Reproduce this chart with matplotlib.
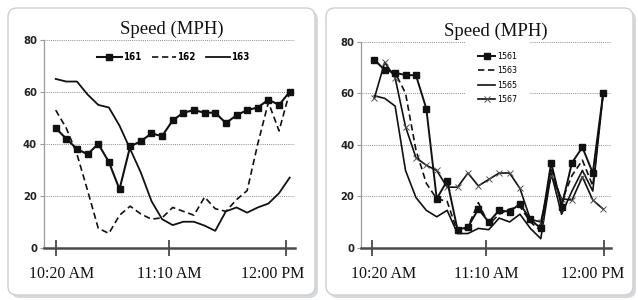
import numpy as np
import matplotlib
matplotlib.use("Agg")
import matplotlib.pyplot as plt
from matplotlib import font_manager as fm
from matplotlib.patches import FancyBboxPatch
from matplotlib.transforms import IdentityTransform, ScaledTranslation

# data (speed in MPH, one value per sample)
left_names = ["161", "162", "163"]
s161 = [46, 42, 38, 36, 40, 33, 22.5, 39, 41, 44, 43, 49, 52, 53, 52, 52, 48, 51, 53, 54, 57, 55, 60]
s162 = [53, 46, 36, 22, 7.5, 5.5, 12.5, 16, 13, 11, 11.5, 15.5, 14, 12.5, 19.5, 15, 14, 18.5, 22, 40, 56, 45, 60]
s163 = [65, 64, 64, 59, 55, 54, 47, 38, 29, 18, 11, 8.7, 10, 10, 8.5, 6.5, 14, 15.5, 13.5, 15.5, 17, 21, 27]

right_names = ["1561", "1563", "1565", "1567"]
s1561 = [73, 69, 68, 67, 67, 54, 19, 26, 7, 8, 15, 10, 14.5, 14, 17, 11, 7.5, 33, 16, 33, 39, 29, 60]
s1563 = [73, 69, 68, 60, 38, 25, 19, 18, 6, 8, 17.5, 9, 13, 15, 16, 10, 6.5, 31, 18, 28, 34, 24, 60]
s1565 = [59, 58, 55, 30, 19.5, 14.5, 12, 14.5, 5.5, 5.5, 7.5, 7, 11.5, 10, 13, 7.5, 3.5, 29, 13, 22, 30, 22, 60]
s1567 = [58, 72, 66, 47, 35, 32, 30, 23.5, 23.5, 29, 24, 26.5, 29, 29, 23, 11, 10, 28, 19, 18.5, 27.5, 18.5, 15]

tick_labels = ["10:20 AM", "11:10 AM", "12:00 PM"]
y_ticks = [0, 20, 40, 60, 80]


# pick a narrow sans for the small numbers, if one is installed
def find_narrow(bold=False):
    best = None
    for f in fm.fontManager.ttflist:
        fn = f.fname.lower()
        if ("narrow" in fn or "condensed" in fn) and "italic" not in fn and "oblique" not in fn:
            is_bold = "bold" in fn
            if is_bold == bold:
                score = 0 if "liberation" in fn else (1 if "dejavusans" in fn else 2)
                if best is None or score < best[0]:
                    best = (score, f.fname)
    return best[1] if best else None


nb = find_narrow(bold=True) or find_narrow(False)
nr = find_narrow(False) or nb


def nprop(size, fname):
    if fname:
        return fm.FontProperties(fname=fname, size=size)
    return fm.FontProperties(family="DejaVu Sans", size=size)


serif = "Liberation Serif"

W, H = 638, 300
fig = plt.figure(figsize=(W / 100, H / 100), dpi=100)

# rounded panel boxes with a soft shadow (pixel coords)
for x0 in (8, 326):
    sh = FancyBboxPatch((x0 + 3, 2), 307, 287, boxstyle="round,pad=0,rounding_size=9",
                        transform=IdentityTransform(), facecolor="#c3c9d0",
                        edgecolor="none", alpha=0.7, zorder=-2)
    box = FancyBboxPatch((x0, 5), 307, 287, boxstyle="round,pad=0,rounding_size=9",
                         transform=IdentityTransform(), facecolor="white",
                         edgecolor="#cfcfcf", linewidth=1, zorder=-1)
    fig.patches.extend([sh, box])


def style_axes(ax, xlim, xticks, title_x, shifts):
    ax.set_facecolor("none")
    ax.set_ylim(0, 80)
    ax.set_xlim(*xlim)
    ax.set_yticks(y_ticks)
    ax.set_yticklabels([str(v) for v in y_ticks], fontproperties=nprop(8, nb), color="#222222")
    ax.set_xticks(xticks)
    ax.set_xticklabels(tick_labels, family=serif, fontsize=11.5, color="#111111")
    for v in y_ticks[1:]:
        ax.axhline(v, color="#8c8c8c", lw=0.7, ls=(0, (1, 1.2)), zorder=0.5)
    for s in ("top", "right"):
        ax.spines[s].set_visible(False)
    ax.spines["left"].set_color("#9a9a9a")
    ax.spines["left"].set_linewidth(0.9)
    ax.spines["bottom"].set_color("#4a4a4a")
    ax.spines["bottom"].set_linewidth(1.8)
    ax.tick_params(axis="y", length=3, width=0.8, color="#9a9a9a", pad=2)
    ax.tick_params(axis="x", direction="inout", length=11, width=1.3, color="#4a4a4a", pad=8)
    # outer labels are pulled inwards like in the original
    for lab, dx in zip(ax.get_xticklabels(), shifts):
        lab.set_transform(lab.get_transform() + ScaledTranslation(dx / 100, 0, fig.dpi_scale_trans))
    ax.text(title_x, 1.052, "Speed (MPH)", transform=ax.transAxes, ha="center", va="center",
            family=serif, fontsize=13.5, color="#111111")


# left chart
ax1 = fig.add_axes([44 / W, 52.3 / H, 251 / W, 207.7 / H])
x1 = np.arange(len(s161))
ax1.plot(x1, s161, color="#111111", lw=1.5, marker="s", ms=4.6, label=left_names[0], zorder=3)
ax1.plot(x1, s162, color="#111111", lw=1.2, dashes=(3.8, 2.2), label=left_names[1], zorder=2)
ax1.plot(x1, s163, color="#111111", lw=1.3, label=left_names[2], zorder=2)
style_axes(ax1, (-1.1, 22.5), [0.03, 10.64, 21.7], 0.508, [6, 0, -14])
ax1.legend(loc="center", bbox_to_anchor=(0.516, 0.918), ncol=3, frameon=False,
           prop=nprop(7, nb), handlelength=2.5, handletextpad=0.1,
           columnspacing=1.1, borderaxespad=0)

# right chart
ax2 = fig.add_axes([361.3 / W, 52.3 / H, 249.7 / W, 206 / H])
x2 = np.arange(len(s1561))
ax2.plot(x2, s1561, color="#111111", lw=1.4, marker="s", ms=4.2, label=right_names[0], zorder=3)
ax2.plot(x2, s1563, color="#111111", lw=1.2, dashes=(3.8, 2.2), label=right_names[1], zorder=2)
ax2.plot(x2, s1565, color="#111111", lw=1.2, label=right_names[2], zorder=2)
ax2.plot(x2, s1567, color="#111111", lw=1.2, marker="x", ms=4, mew=0.7, mec="#555555",
         label=right_names[3], zorder=2)
style_axes(ax2, (-1.25, 22.75), [-0.2, 10.77, 22.1], 0.537, [11, 0, -12])
leg = ax2.legend(loc="center", bbox_to_anchor=(0.545, 0.824), ncol=1, frameon=True,
                 prop=nprop(6.3, nr), handlelength=2.0, handletextpad=0.15,
                 labelspacing=0.6, borderpad=1.4, borderaxespad=0)
leg.get_frame().set_facecolor("white")
leg.get_frame().set_edgecolor("none")
leg.get_frame().set_alpha(1)

fig.savefig("out.png", dpi=100)
